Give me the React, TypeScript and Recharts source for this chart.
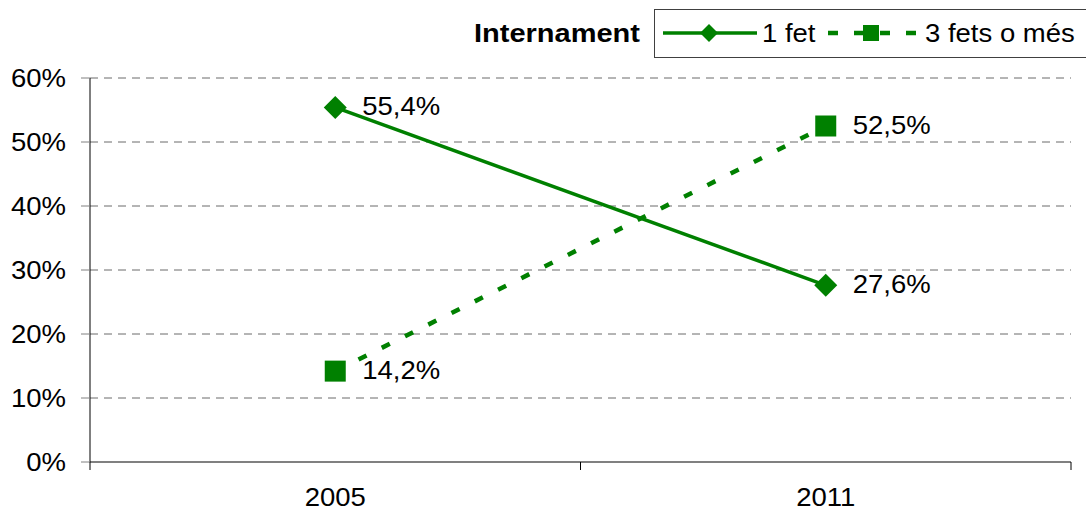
import { CartesianGrid, LabelList, Line, LineChart, XAxis, YAxis } from "recharts";

const years = ["2005", "2011"];
const oneTime = [55.4, 27.6];
const threeOrMore = [14.2, 52.5];
const yTicks = [0, 10, 20, 30, 40, 50, 60];
const seriesNames = ["1 fet", "3 fets o més"];
const legendTitle = "Internament";

const GREEN = "#008000";
const FONT = "'Liberation Sans', Arial, sans-serif";
const STRETCH = 1.1;

const data = years.map((year, i) => ({
  pos: i + 0.5,
  year,
  one: oneTime[i],
  three: threeOrMore[i],
}));
// band edges get a tick mark, band centres get the year label
const xTicks = Array.from({ length: years.length * 2 + 1 }, (_, k) => k / 2);

const pct = (v: number) => `${v.toFixed(1).replace(".", ",")}%`;

function Diamond({ cx, cy, r }: { cx: number; cy: number; r: number }) {
  return (
    <polygon
      points={`${cx},${cy - r} ${cx + r},${cy} ${cx},${cy + r} ${cx - r},${cy}`}
      fill={GREEN}
    />
  );
}

function Square({ cx, cy, r }: { cx: number; cy: number; r: number }) {
  return <rect x={cx - r} y={cy - r} width={r * 2} height={r * 2} fill={GREEN} />;
}

function XTick(props: any) {
  const { x, y, payload } = props;
  const v = payload.value as number;
  if (Number.isInteger(v)) {
    return <line x1={x} x2={x} y1={y} y2={y + 8} stroke="#000" strokeWidth={1} />;
  }
  return (
    <text
      transform={`translate(${x},${y + 44}) scale(${STRETCH},1)`}
      textAnchor="middle"
      fontSize={25}
      fontFamily={FONT}
      fill="#000"
    >
      {years[Math.floor(v)]}
    </text>
  );
}

function YTick(props: any) {
  const { x, y, payload } = props;
  return (
    <text
      transform={`translate(${x},${y}) scale(${STRETCH},1)`}
      textAnchor="end"
      dominantBaseline="central"
      fontSize={25}
      fontFamily={FONT}
      fill="#000"
    >
      {`${payload.value}%`}
    </text>
  );
}

function ValueLabel(props: any) {
  const { x, y, value } = props;
  return (
    <text
      transform={`translate(${x + 27},${y - 1}) scale(${STRETCH},1)`}
      textAnchor="start"
      dominantBaseline="central"
      fontSize={25}
      fontFamily={FONT}
      fill="#000"
    >
      {pct(Number(value))}
    </text>
  );
}

const textStyle = {
  position: "absolute" as const,
  top: 9,
  height: 48,
  lineHeight: "48px",
  fontSize: 25,
  fontFamily: FONT,
  color: "#000",
  whiteSpace: "nowrap" as const,
  transformOrigin: "left center",
};

function ChartLegend() {
  return (
    <>
      <span
        style={{ ...textStyle, left: 474, fontWeight: "bold", transform: "scaleX(1.16)" }}
      >
        {legendTitle}
      </span>
      <div
        style={{
          position: "absolute",
          left: 654,
          top: 9,
          width: 440,
          height: 49,
          border: "1px solid #404040",
          boxSizing: "border-box",
        }}
      />
      <svg width={94} height={24} style={{ position: "absolute", left: 663, top: 21 }}>
        <line x1={0} x2={94} y1={12} y2={12} stroke={GREEN} strokeWidth={3.5} />
        <Diamond cx={46} cy={12} r={9} />
      </svg>
      <span style={{ ...textStyle, left: 762, transform: `scaleX(${STRETCH})` }}>
        {seriesNames[0]}
      </span>
      <svg width={100} height={24} style={{ position: "absolute", left: 820, top: 21 }}>
        <line
          x1={8}
          x2={96}
          y1={12}
          y2={12}
          stroke={GREEN}
          strokeWidth={4.5}
          strokeDasharray="10 16"
        />
        <Square cx={51} cy={12} r={8} />
      </svg>
      <span style={{ ...textStyle, left: 925, transform: `scaleX(${STRETCH})` }}>
        {seriesNames[1]}
      </span>
    </>
  );
}

export default function App() {
  return (
    <div
      style={{
        position: "absolute",
        left: 0,
        top: 0,
        width: 1086,
        height: 512,
        overflow: "hidden",
        background: "#fff",
      }}
    >
      <LineChart
        width={1086}
        height={512}
        data={data}
        margin={{ top: 78, right: 15, bottom: 0, left: 0 }}
      >
        <CartesianGrid vertical={false} stroke="#6a6a6a" strokeDasharray="8 6" />
        <XAxis
          dataKey="pos"
          type="number"
          domain={[0, 2]}
          ticks={xTicks}
          interval={0}
          height={50}
          tickSize={0}
          tickMargin={0}
          tickLine={false}
          axisLine={{ stroke: "#808080", strokeWidth: 2 }}
          tick={XTick}
        />
        <YAxis
          type="number"
          domain={[0, 60]}
          ticks={yTicks}
          interval={0}
          width={90}
          tickSize={9}
          tickMargin={15}
          axisLine={{ stroke: "#000" }}
          tickLine={{ stroke: "#808080" }}
          tick={YTick}
        />
        <Line
          type="linear"
          dataKey="one"
          name={seriesNames[0]}
          stroke={GREEN}
          strokeWidth={3.5}
          isAnimationActive={false}
          activeDot={false}
          dot={(p: any) => <Diamond key={`d${p.index}`} cx={p.cx} cy={p.cy} r={11.5} />}
        >
          <LabelList dataKey="one" content={ValueLabel} />
        </Line>
        <Line
          type="linear"
          dataKey="three"
          name={seriesNames[1]}
          stroke={GREEN}
          strokeWidth={4.5}
          strokeDasharray="9 17"
          isAnimationActive={false}
          activeDot={false}
          dot={(p: any) => <Square key={`s${p.index}`} cx={p.cx} cy={p.cy} r={10.5} />}
        >
          <LabelList dataKey="three" content={ValueLabel} />
        </Line>
      </LineChart>
      <ChartLegend />
    </div>
  );
}
